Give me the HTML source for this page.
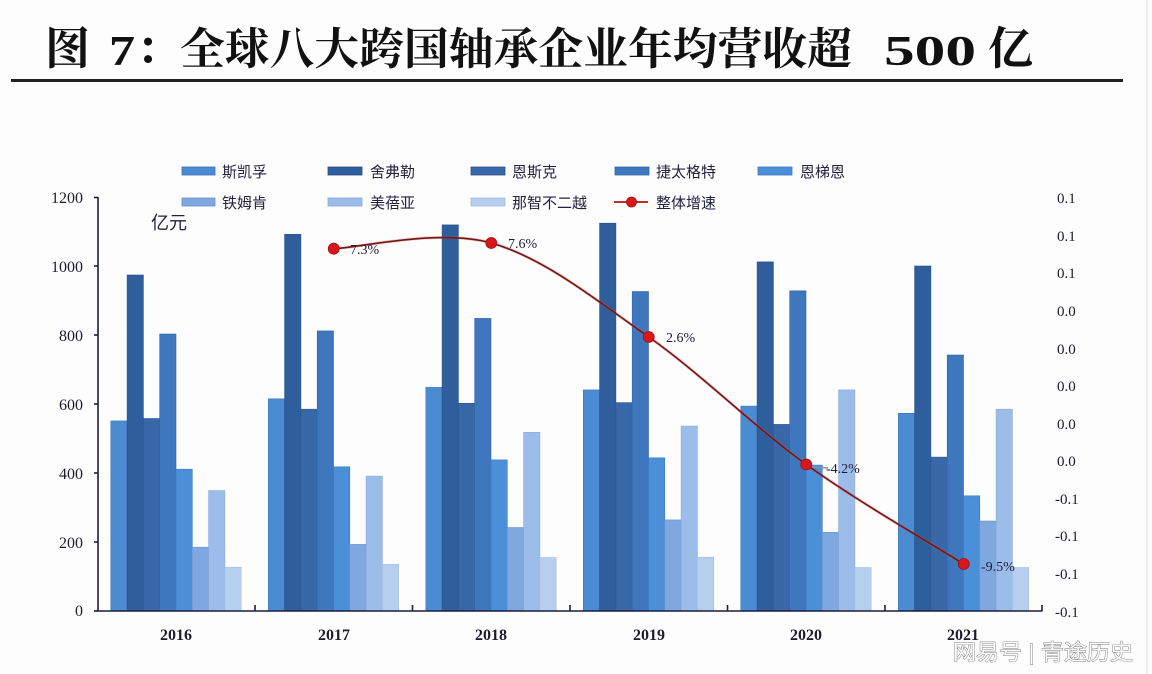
<!DOCTYPE html>
<html>
<head>
<meta charset="utf-8">
<style>
  html, body { margin:0; padding:0; background:#fdfdfe; }
  body { width:1152px; height:674px; overflow:hidden; position:relative; }
  svg { position:absolute; left:0; top:0; }
  .cjk { font-family:"Liberation Sans","Noto Sans CJK SC",sans-serif; }
  .num { font-family:"Liberation Serif","Noto Serif CJK SC",serif; }
</style>
</head>
<body>
<svg width="1152" height="674" viewBox="0 0 1152 674" xmlns="http://www.w3.org/2000/svg">
  <rect x="0" y="0" width="1152" height="674" fill="#fdfdfe"/>
  <line x1="1147" y1="0" x2="1147" y2="674" stroke="#e6e8ec" stroke-width="1.5"/>

  <!-- Title -->
  <g fill="#111" font-weight="bold">
    <text x="45" y="64" font-size="45" font-family="'Noto Serif CJK SC','Noto Sans CJK SC',serif">图</text>
    <text x="109" y="65" font-size="42" font-family="'Liberation Serif',serif" textLength="26" lengthAdjust="spacingAndGlyphs">7</text>
    <text x="136" y="64" font-size="45" font-family="'Noto Serif CJK SC','Noto Sans CJK SC',serif">：</text>
    <text x="180" y="64" font-size="44" font-family="'Noto Serif CJK SC','Noto Sans CJK SC',serif" textLength="672" lengthAdjust="spacingAndGlyphs">全球八大跨国轴承企业年均营收超</text>
    <text x="884" y="65" font-size="42" font-family="'Liberation Serif',serif" textLength="92" lengthAdjust="spacingAndGlyphs">500</text>
    <text x="988" y="64" font-size="45" font-family="'Noto Serif CJK SC','Noto Sans CJK SC',serif">亿</text>
  </g>
  <rect x="11" y="79" width="1112" height="3" fill="#222"/>

  <!-- Legend -->
  <g class="cjk" font-size="15" fill="#23233f">
    <rect x="182" y="167" width="33" height="8" fill="#4b8bd2" stroke="#3a74b8" stroke-width="0.8"/>
    <text x="222" y="177">斯凯孚</text>
    <rect x="328" y="167" width="34" height="8" fill="#2f5e9c" stroke="#244d82" stroke-width="0.8"/>
    <text x="370" y="177">舍弗勒</text>
    <rect x="471" y="167" width="34" height="8" fill="#3868a8" stroke="#2c558d" stroke-width="0.8"/>
    <text x="512" y="177">恩斯克</text>
    <rect x="615" y="167" width="34" height="8" fill="#3e77bd" stroke="#3063a2" stroke-width="0.8"/>
    <text x="656" y="177">捷太格特</text>
    <rect x="758" y="167" width="34" height="8" fill="#4a8fd8" stroke="#3a78bd" stroke-width="0.8"/>
    <text x="800" y="177">恩梯恩</text>

    <rect x="182" y="198" width="33" height="8" fill="#7ea8df" stroke="#6a93c9" stroke-width="0.8"/>
    <text x="222" y="208">铁姆肯</text>
    <rect x="328" y="198" width="34" height="8" fill="#9cbde9" stroke="#86a8d6" stroke-width="0.8"/>
    <text x="370" y="208">美蓓亚</text>
    <rect x="471" y="198" width="34" height="8" fill="#b7cfef" stroke="#a0bbde" stroke-width="0.8"/>
    <text x="512" y="208">那智不二越</text>
    <line x1="614" y1="202" x2="648" y2="202" stroke="#c0302a" stroke-width="2"/>
    <circle cx="631.5" cy="202" r="5" fill="#d9161b" stroke="#a01010" stroke-width="0.8"/>
    <text x="656" y="208">整体增速</text>
  </g>

  <!-- Unit label -->
  <text x="151" y="229" class="cjk" font-size="18" fill="#23233f">亿元</text>

  <!-- Bars -->
  <g transform="translate(0,611) scale(1,-1)" stroke-width="0.6">
    <!-- 2016 -->
    <rect x="110.8" y="0" width="16.3" height="190.1" fill="#4b8bd2" stroke="#3d78bc"/>
    <rect x="127.1" y="0" width="16.3" height="336.0" fill="#2f5e9c" stroke="#26508a"/>
    <rect x="143.4" y="0" width="16.3" height="192.5" fill="#3868a8" stroke="#2d5893"/>
    <rect x="159.7" y="0" width="16.3" height="277.0" fill="#3e77bd" stroke="#3266a7"/>
    <rect x="176.0" y="0" width="16.3" height="141.8" fill="#4a8fd8" stroke="#3d7cc1"/>
    <rect x="192.3" y="0" width="16.3" height="63.8" fill="#7ea8df" stroke="#6c96cd"/>
    <rect x="208.6" y="0" width="16.3" height="120.4" fill="#9cbde9" stroke="#88aad8"/>
    <rect x="224.9" y="0" width="16.3" height="43.8" fill="#b7cfef" stroke="#a3bee2"/>
    <!-- 2017 -->
    <rect x="268.3" y="0" width="16.3" height="212.2" fill="#4b8bd2" stroke="#3d78bc"/>
    <rect x="284.6" y="0" width="16.3" height="376.7" fill="#2f5e9c" stroke="#26508a"/>
    <rect x="300.9" y="0" width="16.3" height="201.8" fill="#3868a8" stroke="#2d5893"/>
    <rect x="317.2" y="0" width="16.3" height="280.1" fill="#3e77bd" stroke="#3266a7"/>
    <rect x="333.5" y="0" width="16.3" height="144.2" fill="#4a8fd8" stroke="#3d7cc1"/>
    <rect x="349.8" y="0" width="16.3" height="66.6" fill="#7ea8df" stroke="#6c96cd"/>
    <rect x="366.1" y="0" width="16.3" height="134.9" fill="#9cbde9" stroke="#88aad8"/>
    <rect x="382.4" y="0" width="16.3" height="46.6" fill="#b7cfef" stroke="#a3bee2"/>
    <!-- 2018 -->
    <rect x="425.8" y="0" width="16.3" height="223.6" fill="#4b8bd2" stroke="#3d78bc"/>
    <rect x="442.1" y="0" width="16.3" height="386.1" fill="#2f5e9c" stroke="#26508a"/>
    <rect x="458.4" y="0" width="16.3" height="207.7" fill="#3868a8" stroke="#2d5893"/>
    <rect x="474.7" y="0" width="16.3" height="292.6" fill="#3e77bd" stroke="#3266a7"/>
    <rect x="491.0" y="0" width="16.3" height="151.1" fill="#4a8fd8" stroke="#3d7cc1"/>
    <rect x="507.3" y="0" width="16.3" height="83.5" fill="#7ea8df" stroke="#6c96cd"/>
    <rect x="523.6" y="0" width="16.3" height="178.7" fill="#9cbde9" stroke="#88aad8"/>
    <rect x="539.9" y="0" width="16.3" height="53.5" fill="#b7cfef" stroke="#a3bee2"/>
    <!-- 2019 -->
    <rect x="583.3" y="0" width="16.3" height="221.1" fill="#4b8bd2" stroke="#3d78bc"/>
    <rect x="599.6" y="0" width="16.3" height="387.8" fill="#2f5e9c" stroke="#26508a"/>
    <rect x="615.9" y="0" width="16.3" height="208.4" fill="#3868a8" stroke="#2d5893"/>
    <rect x="632.2" y="0" width="16.3" height="319.5" fill="#3e77bd" stroke="#3266a7"/>
    <rect x="648.5" y="0" width="16.3" height="153.2" fill="#4a8fd8" stroke="#3d7cc1"/>
    <rect x="664.8" y="0" width="16.3" height="91.1" fill="#7ea8df" stroke="#6c96cd"/>
    <rect x="681.1" y="0" width="16.3" height="184.9" fill="#9cbde9" stroke="#88aad8"/>
    <rect x="697.4" y="0" width="16.3" height="53.8" fill="#b7cfef" stroke="#a3bee2"/>
    <!-- 2020 -->
    <rect x="740.8" y="0" width="16.3" height="204.9" fill="#4b8bd2" stroke="#3d78bc"/>
    <rect x="757.1" y="0" width="16.3" height="349.1" fill="#2f5e9c" stroke="#26508a"/>
    <rect x="773.4" y="0" width="16.3" height="186.6" fill="#3868a8" stroke="#2d5893"/>
    <rect x="789.7" y="0" width="16.3" height="320.2" fill="#3e77bd" stroke="#3266a7"/>
    <rect x="806.0" y="0" width="16.3" height="145.9" fill="#4a8fd8" stroke="#3d7cc1"/>
    <rect x="822.3" y="0" width="16.3" height="78.7" fill="#7ea8df" stroke="#6c96cd"/>
    <rect x="838.6" y="0" width="16.3" height="221.1" fill="#9cbde9" stroke="#88aad8"/>
    <rect x="854.9" y="0" width="16.3" height="43.5" fill="#b7cfef" stroke="#a3bee2"/>
    <!-- 2021 -->
    <rect x="898.3" y="0" width="16.3" height="197.7" fill="#4b8bd2" stroke="#3d78bc"/>
    <rect x="914.6" y="0" width="16.3" height="345.0" fill="#2f5e9c" stroke="#26508a"/>
    <rect x="930.9" y="0" width="16.3" height="153.9" fill="#3868a8" stroke="#2d5893"/>
    <rect x="947.2" y="0" width="16.3" height="256.0" fill="#3e77bd" stroke="#3266a7"/>
    <rect x="963.5" y="0" width="16.3" height="115.2" fill="#4a8fd8" stroke="#3d7cc1"/>
    <rect x="979.8" y="0" width="16.3" height="90.0" fill="#7ea8df" stroke="#6c96cd"/>
    <rect x="996.1" y="0" width="16.3" height="201.8" fill="#9cbde9" stroke="#88aad8"/>
    <rect x="1012.4" y="0" width="16.3" height="43.5" fill="#b7cfef" stroke="#a3bee2"/>
  </g>

  <!-- Axes -->
  <g stroke="#1c1f3d" stroke-width="1.6" fill="none">
    <line x1="98" y1="197" x2="98" y2="611.5"/>
    <line x1="97.2" y1="611" x2="1042.5" y2="611"/>
    <line x1="94" y1="197.5" x2="98" y2="197.5"/>
    <line x1="94" y1="266" x2="98" y2="266"/>
    <line x1="94" y1="335" x2="98" y2="335"/>
    <line x1="94" y1="404" x2="98" y2="404"/>
    <line x1="94" y1="473" x2="98" y2="473"/>
    <line x1="94" y1="542" x2="98" y2="542"/>
    <line x1="94" y1="611" x2="98" y2="611"/>
    <line x1="255" y1="605" x2="255" y2="611"/>
    <line x1="412.5" y1="605" x2="412.5" y2="611"/>
    <line x1="570" y1="605" x2="570" y2="611"/>
    <line x1="727.5" y1="605" x2="727.5" y2="611"/>
    <line x1="885" y1="605" x2="885" y2="611"/>
    <line x1="1042" y1="605" x2="1042" y2="611"/>
  </g>

  <!-- Left axis labels -->
  <g class="num" font-size="16" fill="#1c1c2c" text-anchor="end">
    <text x="83" y="203">1200</text>
    <text x="83" y="272">1000</text>
    <text x="83" y="341">800</text>
    <text x="83" y="410">600</text>
    <text x="83" y="479">400</text>
    <text x="83" y="548">200</text>
    <text x="83" y="616">0</text>
  </g>

  <!-- Right axis labels -->
  <g class="num" font-size="15" fill="#1c1c2c">
    <text x="1057" y="203">0.1</text>
    <text x="1057" y="241">0.1</text>
    <text x="1057" y="278">0.1</text>
    <text x="1057" y="316">0.0</text>
    <text x="1057" y="354">0.0</text>
    <text x="1057" y="391">0.0</text>
    <text x="1057" y="429">0.0</text>
    <text x="1057" y="466">0.0</text>
    <text x="1055" y="504">-0.1</text>
    <text x="1055" y="541">-0.1</text>
    <text x="1055" y="579">-0.1</text>
    <text x="1055" y="617">-0.1</text>
  </g>

  <!-- Year labels -->
  <g class="num" font-size="16" font-weight="bold" fill="#1c1c2c" text-anchor="middle">
    <text x="176" y="640">2016</text>
    <text x="334" y="640">2017</text>
    <text x="491" y="640">2018</text>
    <text x="649" y="640">2019</text>
    <text x="806" y="640">2020</text>
    <text x="963" y="640">2021</text>
  </g>

  <!-- Growth line -->
  <path d="M333.75,248.7 C360,247.75 438.75,228.3 491.25,243 C543.75,257.7 596.25,300.1 648.75,337 C701.25,373.9 753.75,426.7 806.25,464.5 C858.75,502.3 937.5,547.4 963.75,564"
        fill="none" stroke="#e05050" stroke-width="3" stroke-opacity="0.35"/>
  <path d="M333.75,248.7 C360,247.75 438.75,228.3 491.25,243 C543.75,257.7 596.25,300.1 648.75,337 C701.25,373.9 753.75,426.7 806.25,464.5 C858.75,502.3 937.5,547.4 963.75,564"
        fill="none" stroke="#6e1818" stroke-width="1.6"/>
  <line x1="812" y1="467" x2="828" y2="468" stroke="#8a93a8" stroke-width="1.5"/>
  <g fill="#d9161b" stroke="#a01010" stroke-width="0.8">
    <circle cx="333.75" cy="248.7" r="5.5"/>
    <circle cx="491.25" cy="243" r="5.5"/>
    <circle cx="648.75" cy="337" r="5.5"/>
    <circle cx="806.25" cy="464.5" r="5.5"/>
    <circle cx="963.75" cy="564" r="5.5"/>
  </g>

  <!-- Data labels -->
  <g class="num" font-size="14" fill="#1c1c3c">
    <text x="350" y="254">7.3%</text>
    <text x="508" y="248">7.6%</text>
    <text x="666" y="342">2.6%</text>
    <text x="826" y="473">-4.2%</text>
    <text x="981" y="571">-9.5%</text>
  </g>

  <!-- Watermark -->
  <text x="953" y="660" class="cjk" font-size="22" fill="#ffffff" stroke="#7c7c7c" stroke-width="0.9" paint-order="stroke" textLength="180" lengthAdjust="spacingAndGlyphs">网易号 | 青途历史</text>
</svg>
</body>
</html>
